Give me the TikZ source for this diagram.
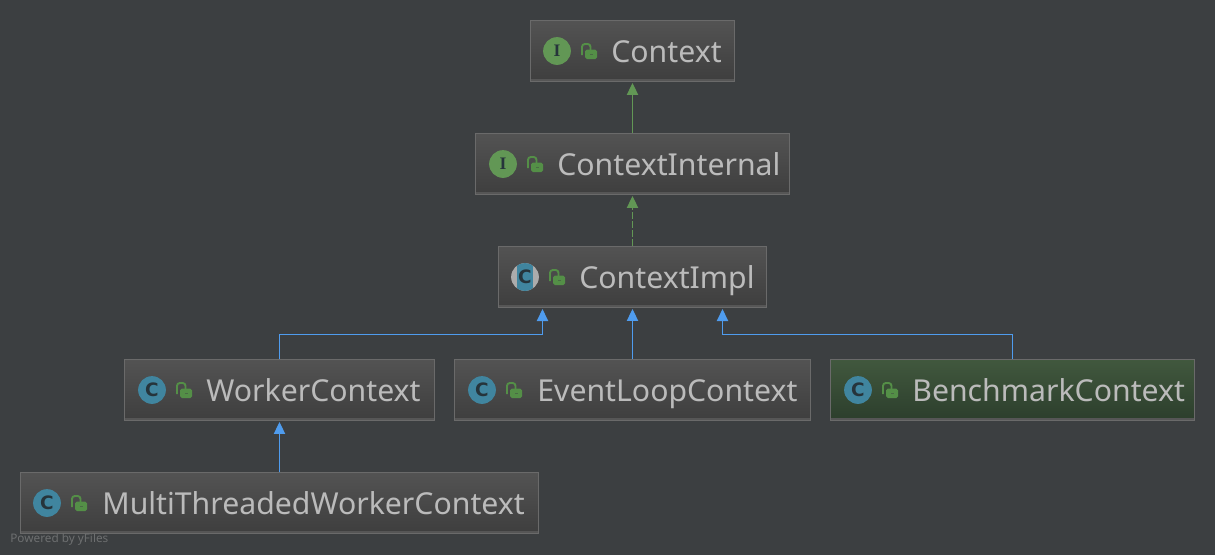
\documentclass[tikz,border=0pt]{standalone}
\usepackage{fontspec}
\setmainfont{Noto Sans}
\usetikzlibrary{arrows.meta}
\definecolor{bgcol}{HTML}{3C3F41}
\definecolor{boxline}{HTML}{6A6A6A}
\definecolor{boxtop}{HTML}{535353}
\definecolor{boxbot}{HTML}{3E3E3E}
\definecolor{greentop}{HTML}{41583E}
\definecolor{greenbot}{HTML}{2C3E2C}
\definecolor{labelcol}{HTML}{BBBBBB}
\definecolor{ifacecol}{HTML}{629755}
\definecolor{classcol}{HTML}{40859F}
\definecolor{lockcol}{HTML}{548F47}
\definecolor{inheritcol}{HTML}{4F9CEE}
\definecolor{inkcol}{HTML}{26343B}
\newfontfamily\iconfont{Liberation Serif}
\newfontfamily\classfont{DejaVu Sans}

\tikzset{
    cbox/.style={draw=boxline,line width=0.6pt,top color=boxtop,bottom color=boxbot,minimum height=35.2pt,inner sep=0pt,outer sep=0pt,
        path picture={\fill[boxline!55!boxbot] (path picture bounding box.south west) rectangle ([yshift=1.6pt]path picture bounding box.south east);}},
    gbox/.style={cbox,top color=greentop,bottom color=greenbot},
    clabel/.style={text=labelcol,anchor=base west,inner sep=0pt,font=\fontsize{17.2}{20}\selectfont},
    icon/.style={circle,minimum size=15.8pt,inner sep=0pt,text=inkcol},
    iicon/.style={icon,fill=ifacecol,font=\iconfont\bfseries\fontsize{10}{10}\selectfont},
    cicon/.style={icon,fill=classcol,font=\classfont\bfseries\fontsize{10.5}{10.5}\selectfont},
    aicon/.style={cicon,fill=gray!65,path picture={\fill[classcol] ([xshift=-4.7pt]path picture bounding box.south) rectangle ([xshift=4.7pt]path picture bounding box.north);}},
    implements/.style={draw=ifacecol,line width=0.6pt,shorten >=0.6pt,-{Triangle[length=6.8pt,width=6.4pt,fill=ifacecol]}},
    extends/.style={draw=inheritcol,line width=0.6pt,shorten >=0.6pt,-{Triangle[length=6.8pt,width=6.4pt,fill=inheritcol]}},
    lockicon/.pic={
        \draw[lockcol,line width=1.1pt,rounded corners=1.6pt] (25,4) -- (25,-7) -- (33.5,-7) -- (33.5,-1);
        \fill[lockcol,rounded corners=1pt] (28,-1.5) rectangle (40,8);
        \fill[bgcol!45!lockcol] (33,2.5) rectangle (36,4);
    },
}

\begin{document}
\begin{tikzpicture}[x=0.02cm,y=-0.02cm]
    \fill[bgcol] (0,0) rectangle (1215,555);
    \useasboundingbox (0,0) rectangle (1215,555);

%%%%%%%%%%%%%%%%%%%% BOXES %%%%%%%%%%%%%%%%%%%%
    \node[cbox,minimum width=116.2pt] (context) at (632.5,51) {};
    \node[cbox,minimum width=179.1pt] (internal) at (632.5,164) {};
    \node[cbox,minimum width=153pt] (impl) at (632.5,277) {};
    \node[cbox,minimum width=176.8pt] (worker) at (279.5,390) {};
    \node[cbox,minimum width=202.9pt] (eventloop) at (632.5,390) {};
    \node[gbox,minimum width=207.5pt] (benchmark) at (1012.5,390) {};
    \node[cbox,minimum width=294.8pt] (multi) at (279.5,503) {};

%%%%%%%%%%%%%%%%%%%% ICONS %%%%%%%%%%%%%%%%%%%%
    \node[iicon] (contexticon) at (557,51) {I};
    \node[iicon] (internalicon) at (503,164) {I};
    \node[aicon] (implicon) at (525,277) {C};
    \node[cicon] (workericon) at (152,390) {C};
    \node[cicon] (eventloopicon) at (482,390) {C};
    \node[cicon] (benchmarkicon) at (858,390) {C};
    \node[cicon] (multiicon) at (47,503) {C};
    \foreach \k in {contexticon,internalicon,implicon,workericon,eventloopicon,benchmarkicon,multiicon}
    {
        \pic at (\k) {lockicon};
    }

%%%%%%%%%%%%%%%%%%%% LABELS %%%%%%%%%%%%%%%%%%%%
    \node[clabel] (contextlabel) at (611,62) {Context};
    \node[clabel] (internallabel) at (557,175) {ContextInternal};
    \node[clabel] (impllabel) at (579,288) {ContextImpl};
    \node[clabel] (workerlabel) at (206,401) {WorkerContext};
    \node[clabel] (eventlooplabel) at (537,401) {EventLoopContext};
    \node[clabel] (benchmarklabel) at (912,401) {BenchmarkContext};
    \node[clabel] (multilabel) at (102,514) {MultiThreadedWorkerContext};
    \node[text=bgcol!75!white,anchor=base west,inner sep=0pt,font=\fontsize{6.7}{8}\selectfont] (powered) at (10,542) {Powered by yFiles};

%%%%%%%%%%%%%%%%%%%% EDGES %%%%%%%%%%%%%%%%%%%%
    \coordinate (implleft) at (542.5,308);
    \coordinate (implright) at (722.5,308);
    \coordinate (bendleft) at (542.5,334.5);
    \coordinate (bendright) at (722.5,334.5);
    \draw[implements] (internal.north) -- (context.south);
    \draw[implements,dash pattern=on 4pt off 1.2pt] (impl.north) -- (internal.south);
    \draw[extends] (eventloop.north) -- (impl.south);
    \draw[extends] (worker.north) |- (bendleft) -- (implleft);
    \draw[extends] (benchmark.north) |- (bendright) -- (implright);
    \draw[extends] (multi.north) -- (worker.south);
\end{tikzpicture}
\end{document}
